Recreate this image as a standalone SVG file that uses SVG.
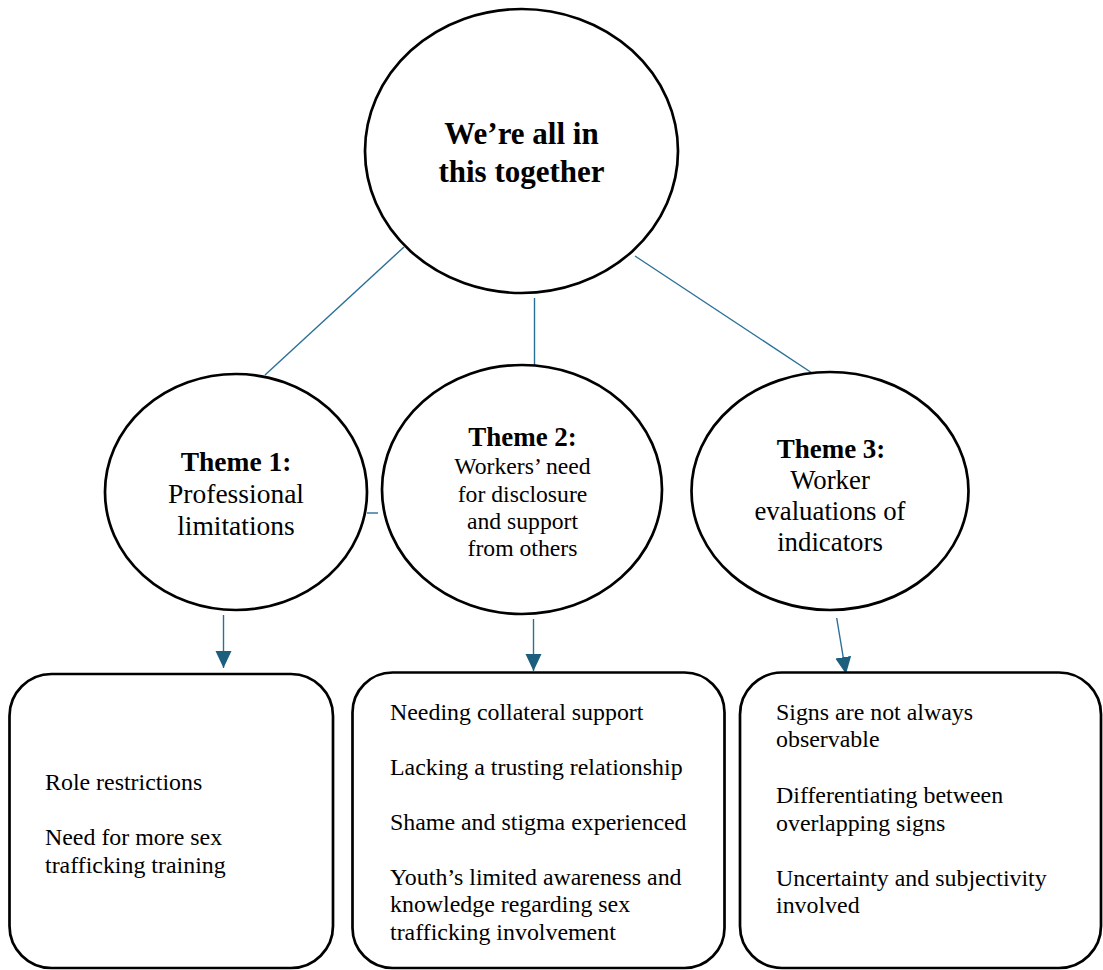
<svg xmlns="http://www.w3.org/2000/svg" width="1103" height="970" viewBox="0 0 1103 970">
<style>
.node{fill:#fff;stroke:#000;stroke-width:2.7}
.conn{stroke:#2a6f97;stroke-width:1.4;fill:none}
.t{font-family:"Liberation Serif","Times New Roman",serif;fill:#000;text-anchor:middle}
.b{font-weight:bold}
.lt{font-family:"Liberation Serif","Times New Roman",serif;fill:#000;font-size:23.9px}
</style>
<defs>
<marker id="ah" markerUnits="userSpaceOnUse" markerWidth="17" markerHeight="17" refX="17" refY="8" orient="auto">
<path d="M0,0 L17,8 L0,16 z" fill="#1b5e7e"/>
</marker>
</defs>
<rect width="1103" height="970" fill="#fff"/>
<g id="connectors">
<line class="conn" x1="404" y1="247" x2="265" y2="375"/>
<line class="conn" x1="534.5" y1="298" x2="534.5" y2="365"/>
<line class="conn" x1="635" y1="256" x2="812" y2="373"/>
<line class="conn" x1="367" y1="513" x2="378" y2="513"/>
<line class="conn" x1="223.5" y1="615" x2="223.5" y2="668" marker-end="url(#ah)"/>
<line class="conn" x1="533.5" y1="619" x2="533.5" y2="671" marker-end="url(#ah)"/>
<line class="conn" x1="836.7" y1="618" x2="846" y2="674" marker-end="url(#ah)"/>
</g>
<g id="root">
<ellipse class="node" cx="521.5" cy="151" rx="156.5" ry="142"/>
<text class="t b" font-size="31" x="521.5" y="144">We’re all in</text>
<text class="t b" font-size="31" x="521.5" y="182">this together</text>
</g>
<g id="theme1">
<ellipse class="node" cx="236" cy="492" rx="131" ry="118"/>
<text class="t b" font-size="27.5" x="236" y="471">Theme 1:</text>
<text class="t" font-size="27.5" x="236" y="503">Professional</text>
<text class="t" font-size="27.5" x="236" y="535">limitations</text>
</g>
<g id="theme2">
<ellipse class="node" cx="522" cy="489.5" rx="140" ry="124.5"/>
<text class="t b" font-size="27" x="522.5" y="446">Theme 2:</text>
<text class="t" font-size="23.7" x="522.5" y="474">Workers’ need</text>
<text class="t" font-size="23.7" x="522.5" y="502">for disclosure</text>
<text class="t" font-size="23.7" x="522.5" y="529">and support</text>
<text class="t" font-size="23.7" x="522.5" y="556">from others</text>
</g>
<g id="theme3">
<ellipse class="node" cx="830" cy="491" rx="138.5" ry="119"/>
<text class="t b" font-size="27" x="831" y="458">Theme 3:</text>
<text class="t" font-size="26.8" x="830" y="489">Worker</text>
<text class="t" font-size="26.8" x="830" y="520">evaluations of</text>
<text class="t" font-size="26.8" x="830" y="551">indicators</text>
</g>
<g id="box1">
<rect class="node" x="9.5" y="674" width="323.5" height="294" rx="42" ry="42"/>
<text class="lt" x="45" y="790">Role restrictions</text>
<text class="lt" x="45" y="845">Need for more sex</text>
<text class="lt" x="45" y="873">trafficking training</text>
</g>
<g id="box2">
<rect class="node" x="352.5" y="672.5" width="372" height="295.5" rx="40" ry="40"/>
<text class="lt" x="390" y="720">Needing collateral support</text>
<text class="lt" x="390" y="775">Lacking a trusting relationship</text>
<text class="lt" x="390" y="830">Shame and stigma experienced</text>
<text class="lt" x="390" y="885">Youth’s limited awareness and</text>
<text class="lt" x="390" y="912">knowledge regarding sex</text>
<text class="lt" x="390" y="940">trafficking involvement</text>
</g>
<g id="box3">
<rect class="node" x="740" y="672.5" width="361" height="295.5" rx="42" ry="42"/>
<text class="lt" x="776" y="720">Signs are not always</text>
<text class="lt" x="776" y="747">observable</text>
<text class="lt" x="776" y="803">Differentiating between</text>
<text class="lt" x="776" y="831">overlapping signs</text>
<text class="lt" x="776" y="886">Uncertainty and subjectivity</text>
<text class="lt" x="776" y="913">involved</text>
</g>
</svg>
